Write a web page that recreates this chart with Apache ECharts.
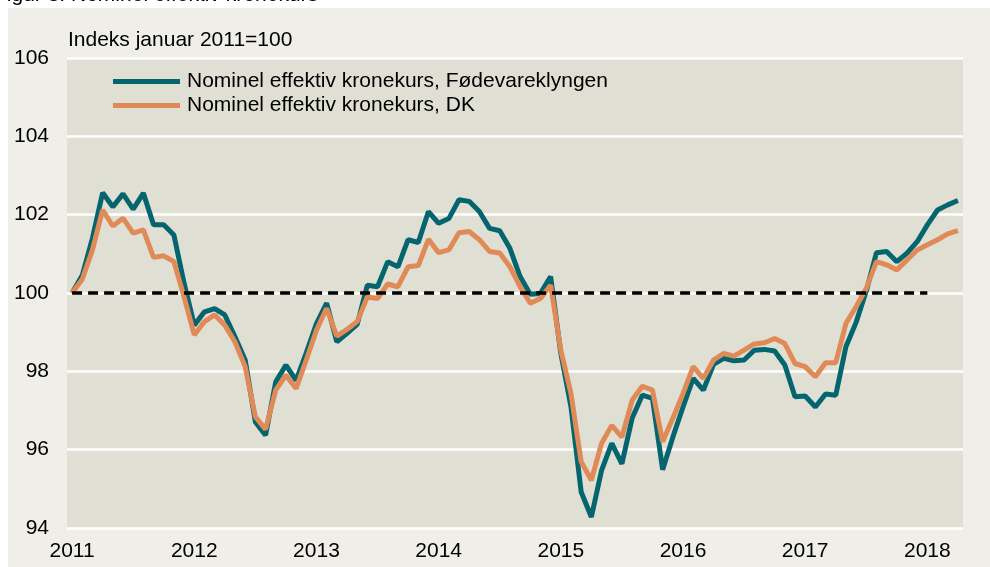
<!DOCTYPE html>
<html lang="da">
  <head>
    <meta charset="UTF-8" />
    <title>Nominel effektiv kronekurs</title>
    <script src="https://cdn.jsdelivr.net/npm/echarts@6.0.0/dist/echarts.min.js"></script>
    <style>
      html, body { margin: 0; padding: 0; background: #fff; }
    </style>
  </head>
  <body>
    <div id="main" style="width: 990px; height: 567px"></div>
    <script type="text/javascript">
      // monthly, Jan 2011 - Apr 2018
      const years = ["2011", "2012", "2013", "2014", "2015", "2016", "2017", "2018"];
      const months = [];
      years.forEach((y) => {
        for (let m = 1; m <= 12; m++) {
          if (y === "2018" && m > 4) break;
          months.push(y + "-" + String(m).padStart(2, "0"));
        }
      });

      const foedevare = [
        100, 100.45, 101.4, 102.56, 102.2, 102.53, 102.14, 102.55, 101.74, 101.74, 101.48, 100.25,
        99.18, 99.52, 99.6, 99.44, 98.88, 98.29, 96.71, 96.37, 97.73, 98.16, 97.77, 98.47,
        99.22, 99.74, 98.75, 98.97, 99.2, 100.2, 100.16, 100.8, 100.67, 101.36, 101.29, 102.08,
        101.78, 101.9, 102.38, 102.34, 102.08, 101.65, 101.59, 101.14, 100.42, 99.97, 99.99, 100.42,
        98.46, 97.09, 94.92, 94.28, 95.47, 96.16, 95.64, 96.8, 97.39, 97.31, 95.49, 96.32,
        97.09, 97.82, 97.52, 98.18, 98.33, 98.27, 98.29, 98.54, 98.56, 98.52, 98.16, 97.35,
        97.37, 97.09, 97.42, 97.39, 98.63, 99.25, 100.05, 101.03, 101.06, 100.8, 101.02, 101.31,
        101.74, 102.12, 102.25, 102.36
      ];
      const dk = [
        100, 100.35, 101.1, 102.12, 101.71, 101.91, 101.53, 101.61, 100.91, 100.95, 100.8, 99.9,
        98.93, 99.27, 99.44, 99.18, 98.75, 98.12, 96.84, 96.52, 97.52, 97.9, 97.56, 98.29,
        99.05, 99.61, 98.9, 99.07, 99.27, 99.9, 99.86, 100.23, 100.16, 100.67, 100.7, 101.37,
        101.03, 101.1, 101.54, 101.57, 101.36, 101.06, 101.02, 100.67, 100.16, 99.74, 99.86, 100.2,
        98.54, 97.43, 95.69, 95.22, 96.16, 96.62, 96.32, 97.26, 97.62, 97.52, 96.2, 96.8,
        97.43, 98.12, 97.82, 98.29, 98.46, 98.39, 98.54, 98.7, 98.73, 98.84, 98.71, 98.2,
        98.12, 97.86, 98.22, 98.22, 99.22, 99.65, 100.12, 100.8, 100.72, 100.59, 100.84, 101.1,
        101.23, 101.36, 101.51, 101.59
      ];
      const baseLevel = 100;
      const baseEnd = "2018-01";

      const font = "'Liberation Sans', Arial, sans-serif";
      const fs = 21;
      const teal = "#05656f";
      const orange = "#e08a58";

      let myChart = echarts.init(document.getElementById("main"));
      myChart.setOption({
        animation: false,
        backgroundColor: "#efeee8",
        graphic: [
          { type: "rect", shape: { x: 0, y: 0, width: 990, height: 8 }, style: { fill: "#fff" } },
          { type: "rect", shape: { x: 0, y: 0, width: 8, height: 567 }, style: { fill: "#fff" } },
          {
            type: "text", left: -6, top: -15,
            style: { text: "Figur 3. Nominel effektiv kronekurs", font: fs + "px " + font, fill: "#000" }
          },
          {
            type: "text", left: 68, top: 30,
            style: { text: "Indeks januar 2011=100", font: fs + "px " + font, fill: "#000" }
          }
        ],
        legend: {
          data: ["Nominel effektiv kronekurs, Fødevareklyngen", "Nominel effektiv kronekurs, DK"],
          orient: "vertical",
          left: 108,
          top: 66,
          icon: "rect",
          itemWidth: 67,
          itemHeight: 5,
          itemGap: 3,
          textStyle: { fontFamily: font, fontSize: fs, color: "#000", lineHeight: 21, padding: [0, 0, 0, 2] }
        },
        grid: {
          left: 67, right: 27, top: 58, bottom: 39,
          show: true, backgroundColor: "#e0dfd4", borderWidth: 0
        },
        xAxis: {
          type: "category",
          data: months,
          boundaryGap: true,
          axisLine: { show: false },
          axisTick: { show: false },
          axisLabel: {
            interval: (i) => i % 12 === 0,
            formatter: (v) => v.slice(0, 4),
            fontFamily: font, fontSize: fs, color: "#000", margin: 13
          },
          splitLine: { show: false }
        },
        yAxis: {
          type: "value",
          min: 94, max: 106, interval: 2,
          axisLine: { show: false },
          axisTick: { show: false },
          axisLabel: { fontFamily: font, fontSize: fs, color: "#000", margin: 18 },
          splitLine: { lineStyle: { color: "#fff", width: 2.5 } }
        },
        series: [
          {
            name: "Nominel effektiv kronekurs, Fødevareklyngen",
            type: "line",
            data: foedevare,
            symbol: "none",
            color: teal,
            lineStyle: { width: 5, color: teal }
          },
          {
            name: "Nominel effektiv kronekurs, DK",
            type: "line",
            data: dk,
            symbol: "none",
            color: orange,
            lineStyle: { width: 5, color: orange },
            markLine: {
              silent: true,
              symbol: "none",
              label: { show: false },
              lineStyle: { color: "#000", width: 3.5, type: [10, 6] },
              data: [[{ coord: [months[0], baseLevel] }, { coord: [baseEnd, baseLevel] }]]
            }
          }
        ]
      });
    </script>
  </body>
</html>
